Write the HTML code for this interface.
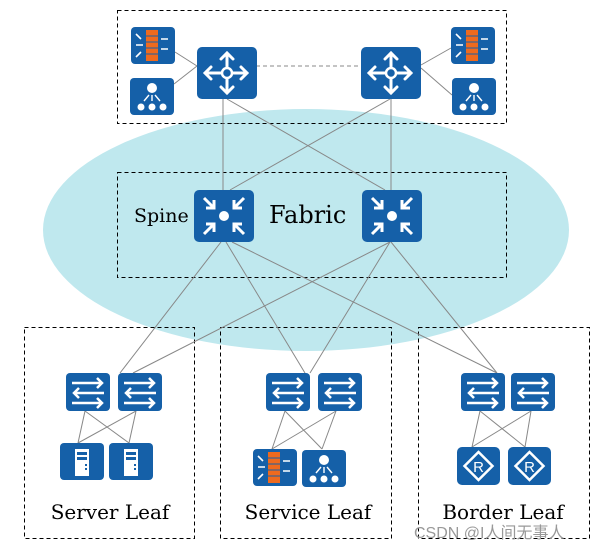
<!DOCTYPE html>
<html><head><meta charset="utf-8"><style>
html,body{margin:0;padding:0;background:#fff;}
svg{display:block;}
text{font-family:"DejaVu Serif","Liberation Serif",serif;fill:#000;}
</style></head><body>
<svg width="606" height="551" viewBox="0 0 606 551" xmlns="http://www.w3.org/2000/svg">
<defs>
<g id="fw">
<rect width="44" height="37" rx="4" fill="#1560a8"/>
<rect x="15" y="3" width="12" height="31" fill="#ee6a1e"/>
<g stroke="#1560a8" stroke-width="1"><line x1="15" y1="9" x2="27" y2="9"/><line x1="15" y1="15" x2="27" y2="15"/><line x1="15" y1="21" x2="27" y2="21"/><line x1="15" y1="27" x2="27" y2="27"/></g>
<g stroke="#fff" stroke-width="1.6" fill="none"><path d="M5 7l5 5M5 18h7M5 30l5-5M30 12h7M30 22h7"/></g>
</g>
<g id="lb">
<rect width="44" height="37" rx="4" fill="#1560a8"/>
<circle cx="22" cy="10" r="5" fill="#fff"/>
<circle cx="11" cy="29" r="3.5" fill="#fff"/><circle cx="22" cy="29" r="3.5" fill="#fff"/><circle cx="33" cy="29" r="3.5" fill="#fff"/>
<g stroke="#fff" stroke-width="1.4"><path d="M19 17l-5 6M22 17v6M25 17l5 6"/></g>
</g>
<g id="rt">
<rect width="60" height="52" rx="5" fill="#1560a8"/>
<g stroke="#fff" stroke-width="3" fill="none" stroke-linecap="round">
<path d="M30 8v38M10 26h40M24 12l6-6 6 6M24 40l6 6 6-6M14 20l-6 6 6 6M44 20l6 6-6 6"/>
</g>
<circle cx="30" cy="26" r="5" fill="#1560a8" stroke="#fff" stroke-width="2.5"/>
</g>
<g id="sp">
<rect width="60" height="52" rx="5" fill="#1560a8"/>
<circle cx="30" cy="26" r="5" fill="#fff"/>
<g stroke="#fff" stroke-width="3" fill="none">
<path d="M10 8l10 10M12 18h8v-8M50 8l-10 10M48 18h-8v-8M10 44l10-10M12 34h8v8M50 44l-10-10M48 34h-8v8"/>
</g>
</g>
<g id="sw">
<rect width="44" height="38" rx="4" fill="#1560a8"/>
<g stroke="#fff" stroke-width="2.5" fill="none">
<path d="M6 10h30M31 5l5 5-5 5M38 20H8M13 15l-5 5 5 5M6 30h30M31 25l5 5-5 5"/>
</g>
</g>
<g id="sv">
<rect width="44" height="37" rx="4" fill="#1560a8"/>
<rect x="15" y="6" width="14" height="27" fill="#fff"/>
<rect x="17" y="9" width="10" height="3" fill="#1560a8"/><rect x="17" y="14" width="10" height="3" fill="#1560a8"/>
<rect x="25" y="21" width="2" height="2" fill="#1560a8"/><rect x="25" y="25" width="2" height="2" fill="#1560a8"/>
</g>
<g id="rr">
<rect width="43" height="38" rx="5" fill="#1560a8"/>
<path d="M21.5 5l14 14-14 14-14-14z" fill="none" stroke="#fff" stroke-width="2.5"/>
<text x="21.5" y="25" text-anchor="middle" font-size="15" style="fill:#fff;font-family:'Liberation Sans',sans-serif">R</text>
</g>
</defs>

<ellipse cx="306" cy="230" rx="263" ry="121" fill="#bfe8ee"/>

<g fill="none" stroke="#000" stroke-width="1" stroke-dasharray="4,3">
<rect x="117.5" y="10.5" width="389" height="113"/>
<rect x="117.5" y="172.5" width="389" height="105"/>
<rect x="24.5" y="327.5" width="170" height="211"/>
<rect x="220.5" y="327.5" width="171" height="211"/>
<rect x="418.5" y="327.5" width="171" height="211"/>
</g>

<g stroke="#888" stroke-width="1" fill="none">
<line x1="256" y1="66" x2="361" y2="66" stroke-dasharray="4,3"/>
<line x1="175" y1="52" x2="197" y2="66"/><line x1="174" y1="84" x2="197" y2="66"/>
<line x1="421" y1="65" x2="451" y2="48"/><line x1="421" y1="68" x2="452" y2="95"/>
<line x1="223" y1="99" x2="223" y2="190"/><line x1="227" y1="99" x2="385" y2="190"/>
<line x1="390" y1="99" x2="230" y2="190"/><line x1="391" y1="99" x2="391" y2="190"/>
<line x1="221" y1="242" x2="120" y2="373"/><line x1="226" y1="242" x2="305" y2="373"/><line x1="232" y1="242" x2="497" y2="373"/>
<line x1="390" y1="242" x2="133" y2="373"/><line x1="390" y1="242" x2="310" y2="373"/><line x1="391" y1="242" x2="497" y2="373"/>
<line x1="85" y1="411" x2="78" y2="443"/><line x1="85" y1="411" x2="129" y2="443"/><line x1="136" y1="411" x2="78" y2="443"/><line x1="136" y1="411" x2="129" y2="443"/>
<line x1="285" y1="411" x2="272" y2="449"/><line x1="285" y1="411" x2="322" y2="449"/><line x1="336" y1="411" x2="272" y2="449"/><line x1="336" y1="411" x2="322" y2="449"/>
<line x1="480" y1="411" x2="472" y2="447"/><line x1="480" y1="411" x2="525" y2="447"/><line x1="531" y1="411" x2="472" y2="447"/><line x1="531" y1="411" x2="525" y2="447"/>
</g>

<use href="#fw" x="131" y="27"/><use href="#lb" x="130" y="78"/>
<use href="#rt" x="197" y="47"/><use href="#rt" x="361" y="47"/>
<use href="#fw" x="451" y="27"/><use href="#lb" x="452" y="78"/>
<use href="#sp" x="194" y="190"/><use href="#sp" x="362" y="190"/>
<text x="134" y="222" font-size="19">Spine</text>
<text x="269" y="223" font-size="24">Fabric</text>

<use href="#sw" x="66" y="373"/><use href="#sw" x="118" y="373"/>
<use href="#sw" x="266" y="373"/><use href="#sw" x="318" y="373"/>
<use href="#sw" x="461" y="373"/><use href="#sw" x="511" y="373"/>
<use href="#sv" x="60" y="443"/><use href="#sv" x="109" y="443"/>
<use href="#fw" x="253" y="449"/><use href="#lb" x="302" y="450"/>
<use href="#rr" x="457" y="447"/><use href="#rr" x="508" y="447"/>

<text x="110" y="519" font-size="20" text-anchor="middle">Server Leaf</text>
<text x="308" y="519" font-size="20" text-anchor="middle">Service Leaf</text>
<text x="503" y="519" font-size="20" text-anchor="middle">Border Leaf</text>
<text x="414" y="538" font-size="16" style="fill:#999;font-family:'Liberation Sans','Noto Sans CJK SC',sans-serif">CSDN @I人间无事人</text>
</svg>
</body></html>
